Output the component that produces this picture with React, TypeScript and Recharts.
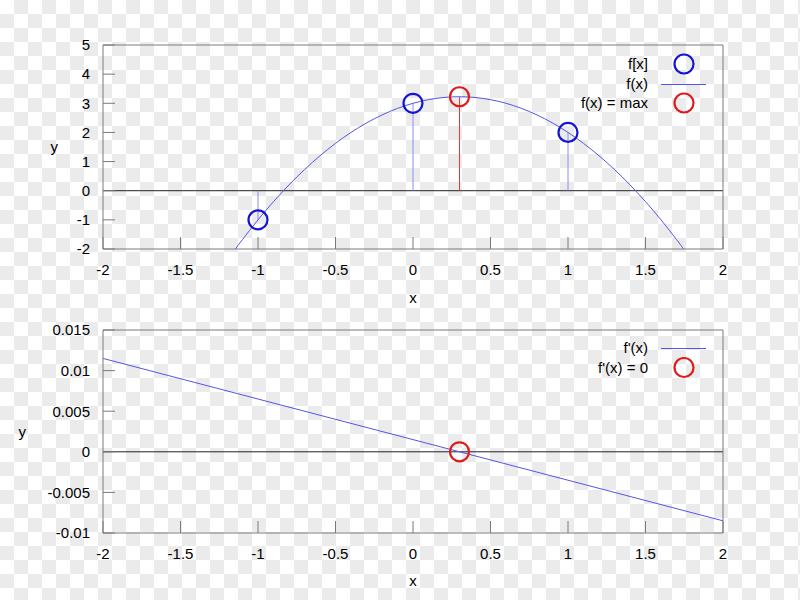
import React from 'react';
import {
  ComposedChart,
  Line,
  Scatter,
  XAxis,
  YAxis,
  ReferenceLine,
  Legend,
} from 'recharts';

// ---------- data ----------
const xTicks = [-2, -1.5, -1, -0.5, 0, 0.5, 1, 1.5, 2];
const yTicksTop = [-2, -1, 0, 1, 2, 3, 4, 5];
const yTicksBottom = [-0.01, -0.005, 0, 0.005, 0.01, 0.015];

const curveX = [-1.15, -1.1, -1.0, -0.9, -0.8, -0.7, -0.6, -0.5, -0.4, -0.3, -0.2, -0.1, 0, 0.1, 0.2, 0.3, 0.4, 0.5, 0.6, 0.7, 0.8, 0.9, 1.0, 1.1, 1.2, 1.3, 1.4, 1.5, 1.6, 1.7, 1.75];
const curveY = [-2.03, -1.675, -1.0, -0.375, 0.2, 0.725, 1.2, 1.625, 2.0, 2.325, 2.6, 2.825, 3.0, 3.125, 3.2, 3.225, 3.2, 3.125, 3.0, 2.825, 2.6, 2.325, 2.0, 1.625, 1.2, 0.725, 0.2, -0.375, -1.0, -1.675, -2.03];

const sampleX = [-1, 0, 1];
const sampleY = [-1, 3, 2];

const maxX = [0.3];
const maxY = [3.225];

const derivX = [-2, 2];
const derivY = [0.0115, -0.0085];

const zeroX = [0.3];
const zeroY = [0];

const topLegend = ['f[x]', 'f(x)', 'f(x) = max'];
const bottomLegend = ["f'(x)", "f'(x) = 0"];

const curveData = curveX.map((x, i) => ({ x, y: curveY[i] }));
const sampleData = sampleX.map((x, i) => ({ x, y: sampleY[i] }));
const maxData = maxX.map((x, i) => ({ x, y: maxY[i] }));
const derivData = derivX.map((x, i) => ({ x, y: derivY[i] }));
const zeroData = zeroX.map((x, i) => ({ x, y: zeroY[i] }));

// impulse segments (from the zero line up/down to each point)
const impulse = (p: { x: number; y: number }) => [
  { x: p.x, y: 0 },
  { x: p.x, y: p.y },
];

// ---------- styles ----------
const FONT = 'Liberation Sans, Arial, sans-serif';
const FRAME = '#7a7a7a';
const CURVE = '#5555e6';
const BLUE = '#1414d2';
const RED = '#e01a1a';
const IMP_BLUE = '#8c8cf0';
const IMP_RED = '#e83838';
const tickStyle = { fill: '#000', fontSize: 15, fontFamily: FONT };

const circleShape = (color: string) => (props: any) => (
  <circle cx={props.cx} cy={props.cy} r={9.5} fill="none" stroke={color} strokeWidth={2.2} />
);

type Sym = 'circle-blue' | 'line' | 'circle-red';

const makeLegend = (labels: string[], syms: Sym[]) => () => (
  <svg width={200} height={labels.length * 19.5 + 10} style={{ overflow: 'visible', display: 'block' }}>
    {labels.map((l, i) => {
      const cy = 12 + i * 19.5;
      const s = syms[i];
      return (
        <g key={l}>
          <text x={108} y={cy} dy="0.35em" textAnchor="end" fontSize={15} fontFamily={FONT} fill="#000">
            {l}
          </text>
          {s === 'line' ? (
            <line x1={121} x2={166} y1={Math.round(cy) + 0.5} y2={Math.round(cy) + 0.5} stroke={CURVE} strokeWidth={1} />
          ) : (
            <circle cx={144} cy={cy} r={9.5} fill="none" stroke={s === 'circle-blue' ? BLUE : RED} strokeWidth={2.2} />
          )}
        </g>
      );
    })}
  </svg>
);

const axisCommon = {
  stroke: FRAME,
  tickLine: { stroke: FRAME },
  tickSize: -12,
};

export default function App() {
  return (
    <div
      style={{
        position: 'absolute',
        left: 0,
        top: 0,
        width: 800,
        height: 600,
        backgroundColor: '#ffffff',
        backgroundImage:
          'conic-gradient(#ebebeb 25%, transparent 0 50%, #ebebeb 0 75%, transparent 0)',
        backgroundSize: '28px 28px',
        fontFamily: FONT,
      }}
    >
      <div style={{ position: 'absolute', left: 0, top: 0 }}>
        <ComposedChart width={800} height={310} margin={{ top: 44, right: 76, bottom: 31, left: 63 }}>
          <XAxis
            xAxisId={0}
            type="number"
            dataKey="x"
            domain={[-2, 2]}
            ticks={xTicks}
            interval={0}
            {...axisCommon}
            tickMargin={27}
            height={30}
            tick={tickStyle}
            label={{ value: 'x', position: 'bottom', offset: 13, fill: '#000', fontSize: 15, fontFamily: FONT }}
          />
          <XAxis
            xAxisId="top"
            orientation="top"
            type="number"
            dataKey="x"
            domain={[-2, 2]}
            ticks={xTicks}
            interval={0}
            {...axisCommon}
            height={1}
            tick={{ fill: 'transparent', fontSize: 1 }}
          />
          <YAxis
            yAxisId={0}
            type="number"
            domain={[-2, 5]}
            ticks={yTicksTop}
            interval={0}
            allowDataOverflow
            {...axisCommon}
            tickMargin={25}
            width={40}
            tick={tickStyle}
            label={{ value: 'y', position: 'left', offset: 5, fill: '#000', fontSize: 15, fontFamily: FONT }}
          />
          <YAxis
            yAxisId="right"
            orientation="right"
            type="number"
            domain={[-2, 5]}
            ticks={yTicksTop}
            interval={0}
            {...axisCommon}
            width={1}
            tick={{ fill: 'transparent', fontSize: 1 }}
          />
          <ReferenceLine y={0} stroke="#222" strokeWidth={1} />
          {sampleData.map((p) => (
            <Line
              key={'s' + p.x}
              data={impulse(p)}
              dataKey="y"
              type="linear"
              dot={false}
              activeDot={false}
              stroke={IMP_BLUE}
              strokeWidth={1}
              isAnimationActive={false}
            />
          ))}
          {maxData.map((p) => (
            <Line
              key={'m' + p.x}
              data={impulse(p)}
              dataKey="y"
              type="linear"
              dot={false}
              activeDot={false}
              stroke={IMP_RED}
              strokeWidth={1}
              isAnimationActive={false}
            />
          ))}
          <Line
            data={curveData}
            dataKey="y"
            type="natural"
            dot={false}
            stroke={CURVE}
            strokeWidth={1}
            isAnimationActive={false}
          />
          <Scatter data={sampleData} dataKey="y" shape={circleShape(BLUE)} isAnimationActive={false} />
          <Scatter data={maxData} dataKey="y" shape={circleShape(RED)} isAnimationActive={false} />
          <Legend
            layout="vertical"
            align="center"
            verticalAlign="middle"
            wrapperStyle={{ left: 540, top: 52, width: 200, height: 70 }}
            content={makeLegend(topLegend, ['circle-blue', 'line', 'circle-red'])}
          />
        </ComposedChart>
      </div>
      <div style={{ position: 'absolute', left: 0, top: 310 }}>
        <ComposedChart width={800} height={290} margin={{ top: 19, right: 76, bottom: 37, left: 28 }}>
          <XAxis
            xAxisId={0}
            type="number"
            dataKey="x"
            domain={[-2, 2]}
            ticks={xTicks}
            interval={0}
            {...axisCommon}
            tickMargin={27}
            height={30}
            tick={tickStyle}
            label={{ value: 'x', position: 'bottom', offset: 12, fill: '#000', fontSize: 15, fontFamily: FONT }}
          />
          <XAxis
            xAxisId="top"
            orientation="top"
            type="number"
            dataKey="x"
            domain={[-2, 2]}
            ticks={xTicks}
            interval={0}
            {...axisCommon}
            height={1}
            tick={{ fill: 'transparent', fontSize: 1 }}
          />
          <YAxis
            yAxisId={0}
            type="number"
            domain={[-0.01, 0.015]}
            ticks={yTicksBottom}
            interval={0}
            allowDataOverflow
            {...axisCommon}
            tickMargin={25}
            width={75}
            tick={tickStyle}
            label={{ value: 'y', position: 'left', offset: 2, fill: '#000', fontSize: 15, fontFamily: FONT }}
          />
          <YAxis
            yAxisId="right"
            orientation="right"
            type="number"
            domain={[-0.01, 0.015]}
            ticks={yTicksBottom}
            interval={0}
            {...axisCommon}
            width={1}
            tick={{ fill: 'transparent', fontSize: 1 }}
          />
          <ReferenceLine y={0} stroke="#222" strokeWidth={1} />
          <Line
            data={derivData}
            dataKey="y"
            type="linear"
            dot={false}
            stroke={CURVE}
            strokeWidth={1}
            isAnimationActive={false}
          />
          <Scatter data={zeroData} dataKey="y" shape={circleShape(RED)} isAnimationActive={false} />
          <Legend
            layout="vertical"
            align="center"
            verticalAlign="middle"
            wrapperStyle={{ left: 540, top: 26, width: 200, height: 50 }}
            content={makeLegend(bottomLegend, ['line', 'circle-red'])}
          />
        </ComposedChart>
      </div>
    </div>
  );
}
